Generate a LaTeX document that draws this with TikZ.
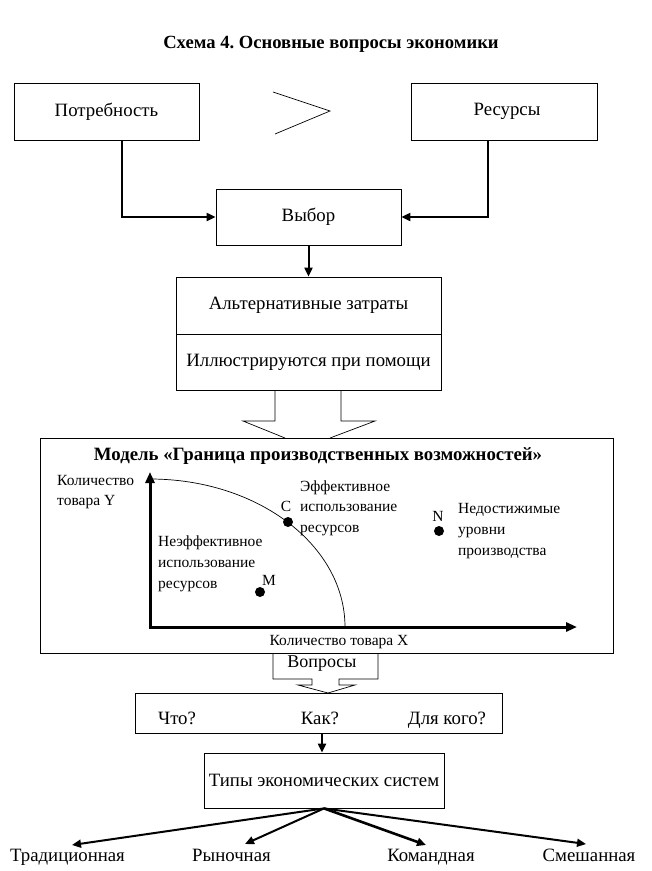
\documentclass[tikz,border=0pt]{standalone}
\usepackage{fontspec}
\setmainfont{Liberation Serif}
\usetikzlibrary{arrows.meta}
\frenchspacing
\begin{document}
\begin{tikzpicture}[x=1pt,y=-1pt,
  box/.style={draw,line width=0.8pt,inner sep=0pt,font=\fontsize{18.8}{21}\selectfont},
  conn/.style={line width=2pt,-{Triangle[length=9pt,width=8pt]}},
  axis/.style={line width=3pt,-{Triangle[length=11pt,width=9pt]}},
  big/.style={inner sep=0pt,font=\fontsize{18.8}{21}\selectfont},
  small/.style={inner sep=0pt,align=left,anchor=west,font=\fontsize{15.5}{20.5}\selectfont},
  dot/.style={circle,fill,inner sep=0pt,minimum size=10pt},
  thinline/.style={line width=0.7pt}]
\useasboundingbox[fill=white] (0,0) rectangle (652,871);

% title
\node[inner sep=0pt,font=\fontsize{18.6}{20}\selectfont\bfseries] (title) at (331,44) {Схема 4. Основные вопросы экономики};

% top boxes
\node[box,minimum width=185pt,minimum height=57pt] (potr) at (106.5,111.5) {Потребность};
\node[box,minimum width=186pt,minimum height=57pt] (res) at (504,111.5) {\hspace{6pt}Ресурсы};
\draw[thinline] (273,92) -- (330,111) -- (275,134);

\node[box,minimum width=185pt,minimum height=56pt] (vybor) at (308.5,217) {Выбор};
\draw[conn] ([xshift=15.5pt]potr.south) |- (vybor.west);
\draw[conn] ([xshift=-16pt]res.south) |- (vybor.east);

\node[box,minimum width=265pt,minimum height=57pt] (alt1) at (308.5,305.5) {Альтернативные затраты};
\node[box,minimum width=265pt,minimum height=56pt] (alt2) at (308.5,362) {Иллюстрируются при помощи\hspace{7pt}};
\draw[conn] (vybor.south) -- (alt1.north);

% block arrow to model
\draw[thinline] (275,390) -- (275,421) -- (243,421) -- (285,438);
\draw[thinline] (341,390) -- (341,421) -- (375,421) -- (330,438);

% model box
\node[box,minimum width=573pt,minimum height=215pt] (model) at (326.5,545.5) {};
\node[inner sep=0pt,font=\fontsize{18.8}{21}\selectfont\bfseries] (mtitle) at (318,456) {Модель «Граница производственных возможностей»};

\draw[axis] (150,628.5) -- (150,472);
\draw[axis] (148.5,627) -- (577,627);
\draw[thinline] (150,479) arc[start angle=-90,end angle=0,x radius=195,y radius=148];

\node[small] (ylab) at (57,492) {Количество\\товара Y};
\node[small] (eff) at (300,508) {Эффективное\\использование\\ресурсов};
\node[small,font=\fontsize{15.5}{21}\selectfont] (unreach) at (458,531) {Недостижимые\\уровни\\производства};
\node[small,font=\fontsize{15.5}{21}\selectfont] (ineff) at (158,564) {Неэффективное\\использование\\ресурсов};
\node[inner sep=0pt,font=\fontsize{15.5}{18}\selectfont] (xlab) at (339,642) {Количество товара X};

\node[dot] (C) at (288,522) {};
\node[dot] (N) at (439,531) {};
\node[dot] (M) at (260,592) {};
\node[inner sep=0pt,font=\fontsize{15.5}{18}\selectfont] (Cl) at (286,506) {C};
\node[inner sep=0pt,font=\fontsize{15.5}{18}\selectfont] (Nl) at (438,516) {N};
\node[inner sep=0pt,font=\fontsize{15.5}{18}\selectfont] (Ml) at (269,580) {M};

% Вопросы block arrow
\draw[thinline] (273,653) -- (273,679) -- (312,679) -- (312,685) -- (298,685) -- (328,693);
\draw[thinline] (378,653) -- (378,679) -- (339,679) -- (339,685) -- (355,685) -- (328,693);
\node[big,font=\fontsize{18}{20}\selectfont] (vopr) at (322,664) {Вопросы};

% questions box
\node[box,minimum width=367pt,minimum height=40pt] (q) at (318.5,713) {};
\node[big,anchor=base] (what) at (177,724) {Что?};
\node[big,anchor=base] (how) at (320,724) {Как?};
\node[big,anchor=base] (whom) at (447,724) {Для кого?};

\node[box,minimum width=240pt,minimum height=55pt] (types) at (324,780.5) {Типы экономических систем};
\draw[conn] ([xshift=-2pt]types.north |- q.south) -- ([xshift=-2pt]types.north);

% bottom
\node[big,anchor=base] (trad) at (67.5,861) {Традиционная};
\node[big,anchor=base] (ryn) at (231.5,861) {Рыночная};
\node[big,anchor=base] (kom) at (431,861) {Командная};
\node[big,anchor=base] (sme) at (589,861) {Смешанная};
\coordinate (t1) at (72,845);
\coordinate (t2) at (245,844);
\coordinate (t3) at (426,845);
\coordinate (t4) at (586,844);
\draw[conn] (types.south) -- (t1);
\draw[conn] (types.south) -- (t2);
\draw[conn,line width=2.6pt] (types.south) -- (t3);
\draw[conn] (types.south) -- (t4);
\end{tikzpicture}
\end{document}
